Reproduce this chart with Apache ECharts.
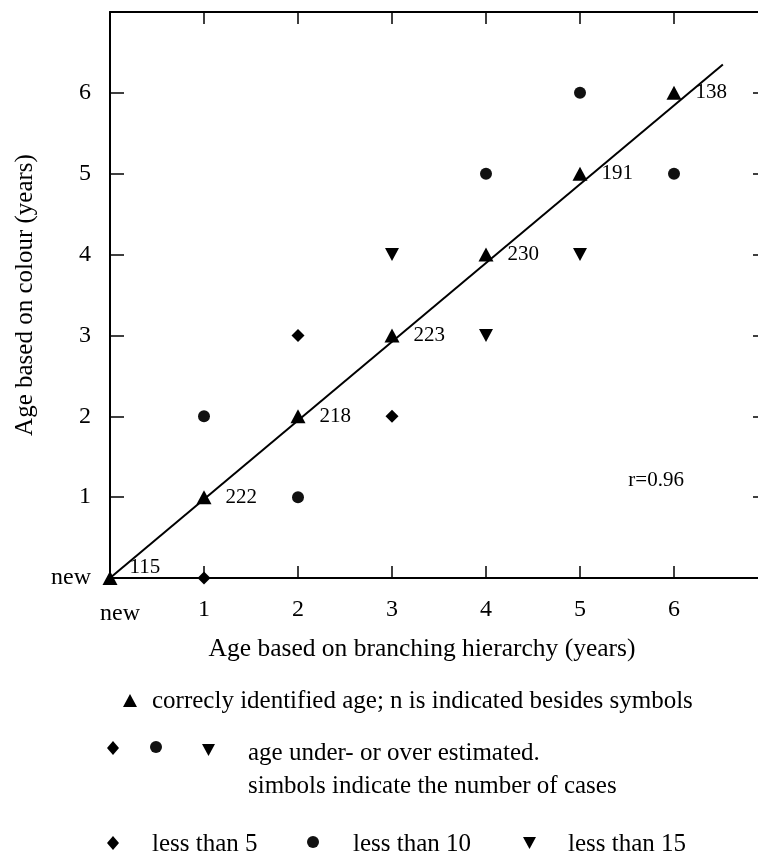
<!DOCTYPE html>
<html>
<head>
<meta charset="utf-8">
<script src="https://cdn.jsdelivr.net/npm/echarts@6/dist/echarts.min.js"></script>
<style>
html,body{margin:0;padding:0;background:#fff;}
#chart{width:758px;height:853px;}
</style>
</head>
<body>
<div id="chart"></div>
<script>
// ---- data ----
const tickLabels = ['new', '1', '2', '3', '4', '5', '6'];
const correctPoints = [[0, 0], [1, 1], [2, 2], [3, 3], [4, 4], [5, 5], [6, 6]];
const correctN = [115, 222, 218, 223, 230, 191, 138];
const lessThan5 = [[1, 0], [2, 3], [3, 2]];
const lessThan10 = [[1, 2], [2, 1], [4, 5], [5, 6], [6, 5]];
const lessThan15 = [[3, 4], [4, 3], [5, 4]];
const regressionLine = [[0, 0], [6.52, 6.35]];
const rText = 'r=0.96';
const rPosition = [5.81, 1.21];
const xTitle = 'Age based on branching hierarchy (years)';
const yTitle = 'Age based on colour (years)';
const legendTexts = {
  correct: 'correcly identified age; n is indicated besides symbols',
  under1: 'age under- or over estimated.',
  under2: 'simbols indicate the number of cases',
  lt5: 'less than 5',
  lt10: 'less than 10',
  lt15: 'less than 15'
};

// ---- styling ----
const FONT = '"Liberation Serif", "Times New Roman", serif';
const BLACK = '#000';

const chart = echarts.init(document.getElementById('chart'), null, { renderer: 'canvas' });

const labelFmt = v => (v >= 0 && v <= 6 && Number.isInteger(v)) ? tickLabels[v] : '';

const baseAxis = {
  type: 'value', min: 0, max: 7, interval: 1,
  splitLine: { show: false },
  axisLine: { show: true, onZero: false, lineStyle: { color: BLACK, width: 2 } },
  axisTick: { show: true, inside: true, length: 12, lineStyle: { color: BLACK, width: 1.5 } }
};

const option = {
  backgroundColor: '#fff',
  animation: false,
  grid: { left: 110, top: 12, width: 658, height: 566, containLabel: false, outerBoundsMode: 'none' },
  xAxis: [
    Object.assign({}, baseAxis, {
      position: 'bottom',
      axisLabel: {
        show: true, margin: 20, fontFamily: FONT, fontSize: 24, color: BLACK,
        formatter: v => v === 0 ? '{n|new}' : labelFmt(v),
        rich: { n: { fontFamily: FONT, fontSize: 24, color: BLACK, padding: [4, 0, 0, 20] } }
      },
      name: xTitle, nameLocation: 'middle', nameGap: 58,
      nameTextStyle: { fontFamily: FONT, fontSize: 25.5, color: BLACK, padding: [0, 34, 0, 0] }
    }),
    Object.assign({}, baseAxis, {
      position: 'top',
      axisLabel: { show: false }
    })
  ],
  yAxis: [
    Object.assign({}, baseAxis, {
      position: 'left',
      axisTick: { show: true, inside: true, length: 14, lineStyle: { color: BLACK, width: 1.5 } },
      axisLabel: {
        show: true, margin: 19, fontFamily: FONT, fontSize: 24, color: BLACK,
        formatter: labelFmt
      },
      name: yTitle, nameLocation: 'middle', nameGap: 72, nameRotate: 90,
      nameTextStyle: { fontFamily: FONT, fontSize: 25, color: BLACK }
    }),
    Object.assign({}, baseAxis, {
      position: 'right',
      axisTick: { show: true, inside: true, length: 15, lineStyle: { color: BLACK, width: 1.5 } },
      axisLabel: { show: false }
    })
  ],
  series: [
    {
      type: 'line', data: regressionLine, symbol: 'none', z: 1,
      lineStyle: { color: BLACK, width: 2 },
      markPoint: {
        symbol: 'circle', symbolSize: 0,
        data: [{ coord: rPosition, value: rText }],
        label: { show: true, position: 'inside', formatter: rText, fontFamily: FONT, fontSize: 21, color: BLACK }
      }
    },
    {
      type: 'scatter', z: 3,
      data: correctPoints.map((p, i) => ({
        value: p,
        label: i === 0 ? { position: 'right', distance: 12, offset: [0, -11] } : undefined
      })),
      symbol: 'triangle', symbolSize: [15, 14],
      itemStyle: { color: BLACK, opacity: 1 },
      label: {
        show: true, position: 'right', distance: 14,
        formatter: p => String(correctN[p.dataIndex]),
        fontFamily: FONT, fontSize: 21, color: BLACK
      }
    },
    {
      type: 'scatter', z: 3, data: lessThan5,
      symbol: 'diamond', symbolSize: [13, 13],
      itemStyle: { color: BLACK, opacity: 1 }
    },
    {
      type: 'scatter', z: 3, data: lessThan10,
      symbol: 'circle', symbolSize: 12,
      itemStyle: { color: '#111', opacity: 1 }
    },
    {
      type: 'scatter', z: 3, data: lessThan15,
      symbol: 'triangle', symbolRotate: 180, symbolSize: [14, 13],
      itemStyle: { color: BLACK, opacity: 1 }
    }
  ],
  graphic: [
    // legend row 1
    { type: 'polygon', shape: { points: [[130, 694], [137, 707], [123, 707]] }, style: { fill: BLACK } },
    { type: 'text', left: 152, top: 689, style: { text: legendTexts.correct, font: '25px ' + FONT, fill: BLACK } },
    // legend row 2
    { type: 'polygon', shape: { points: [[113, 741], [119, 748], [113, 755], [107, 748]] }, style: { fill: BLACK } },
    { type: 'circle', shape: { cx: 156, cy: 747, r: 6 }, style: { fill: '#111' } },
    { type: 'polygon', shape: { points: [[202, 744], [215, 744], [208.5, 756]] }, style: { fill: BLACK } },
    { type: 'text', left: 248, top: 741, style: { text: legendTexts.under1, font: '25px ' + FONT, fill: BLACK } },
    { type: 'text', left: 248, top: 774, style: { text: legendTexts.under2, font: '25px ' + FONT, fill: BLACK } },
    // legend row 3
    { type: 'polygon', shape: { points: [[113, 836], [119, 843], [113, 850], [107, 843]] }, style: { fill: BLACK } },
    { type: 'text', left: 152, top: 832, style: { text: legendTexts.lt5, font: '25px ' + FONT, fill: BLACK } },
    { type: 'circle', shape: { cx: 313, cy: 842, r: 6 }, style: { fill: '#111' } },
    { type: 'text', left: 353, top: 832, style: { text: legendTexts.lt10, font: '25px ' + FONT, fill: BLACK } },
    { type: 'polygon', shape: { points: [[523, 837], [536, 837], [529.5, 849]] }, style: { fill: BLACK } },
    { type: 'text', left: 568, top: 832, style: { text: legendTexts.lt15, font: '25px ' + FONT, fill: BLACK } }
  ]
};

chart.setOption(option);
</script>
</body>
</html>
